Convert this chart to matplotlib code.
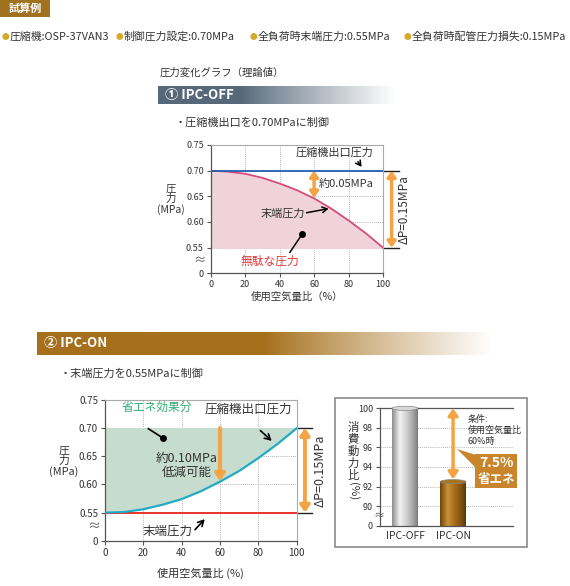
import numpy as np
import matplotlib
matplotlib.use('Agg')
import matplotlib.pyplot as plt
from matplotlib.patches import Rectangle, Ellipse, Polygon
from matplotlib.colors import to_rgb, LinearSegmentedColormap
import matplotlib.transforms as mtrans

plt.rcParams['font.family'] = ['Noto Sans CJK JP', 'DejaVu Sans']

W, H = 570, 586

# ---------------- data ----------------
usage = [0, 10, 20, 30, 40, 50, 60, 70, 80, 90, 100]
off_outlet = [0.70, 0.70, 0.70, 0.70, 0.70, 0.70, 0.70, 0.70, 0.70, 0.70, 0.70]
off_end = [0.700, 0.698, 0.694, 0.686, 0.675, 0.662, 0.646, 0.626, 0.603, 0.578, 0.550]
on_outlet = [0.550, 0.551, 0.556, 0.564, 0.574, 0.588, 0.605, 0.624, 0.647, 0.672, 0.700]
on_end = [0.55, 0.55, 0.55, 0.55, 0.55, 0.55, 0.55, 0.55, 0.55, 0.55, 0.55]
y_ticks = [0.50, 0.55, 0.60, 0.65, 0.70, 0.75]
y_ticklabels = ['0', '0.55', '0.60', '0.65', '0.70', '0.75']
x_ticks = [0, 20, 40, 60, 80, 100]
bar_categories = ['IPC-OFF', 'IPC-ON']
bar_values = [100, 92.5]
bar_yticks = [88, 90, 92, 94, 96, 98, 100]
bar_yticklabels = ['0', '90', '92', '94', '96', '98', '100']
header_items = ['圧縮機:OSP-37VAN3', '制御圧力設定:0.70MPa',
                '全負荷時末端圧力:0.55MPa', '全負荷時配管圧力損失:0.15MPa']

ORANGE = '#f4a445'
DARK = '#333333'


def fx(x):
    return x / W


def fy(y):
    return 1 - y / H


fig = plt.figure(figsize=(W / 100, H / 100), dpi=100)
fig.patch.set_facecolor('white')

# ---------------- header ----------------
fig.patches.append(Rectangle((fx(0), fy(17)), 50 / W, 17 / H, transform=fig.transFigure,
                             facecolor='#a0721f', edgecolor='none'))
fig.text(fx(25), fy(8.5), '試算例', color='white', fontsize=8, fontweight='bold',
         ha='center', va='center')
bullet_x = [2, 116, 250, 404]
for bx, item in zip(bullet_x, header_items):
    fig.text(fx(bx), fy(37), '●', color='#d6aa2c', fontsize=5.5, ha='left', va='center')
    fig.text(fx(bx + 8), fy(37), item, color=DARK, fontsize=7.8, ha='left', va='center')


def banner(x0, x1, y0, y1, color, fade_start, label, tx):
    axb = fig.add_axes([fx(x0), fy(y1), (x1 - x0) / W, (y1 - y0) / H])
    t = np.linspace(0, 1, 400)
    f = np.clip((t - fade_start) / (1 - fade_start), 0, 1) ** 0.9
    c = np.array(to_rgb(color))
    grad = c[None, :] * (1 - f[:, None]) + np.ones(3)[None, :] * f[:, None]
    axb.imshow(grad[None, :, :], aspect='auto', extent=[0, 1, 0, 1])
    axb.set_axis_off()
    fig.text(fx(tx), fy((y0 + y1) / 2), label, color='white', fontsize=9.5,
             fontweight='bold', ha='left', va='center')


# ---------------- chart 1 ----------------
fig.text(fx(160), fy(73), '圧力変化グラフ（理論値）', color=DARK, fontsize=7.5, ha='left', va='center')
banner(158, 395, 86, 104, '#56687a', 0.35, '① IPC-OFF', 165)
fig.text(fx(175), fy(123), '・圧縮機出口を0.70MPaに制御', color=DARK, fontsize=8, ha='left', va='center')


def style_axes(ax, fs):
    ax.set_xlim(0, 100)
    ax.set_ylim(0.50, 0.75)
    ax.set_xticks(x_ticks)
    ax.set_yticks(y_ticks)
    ax.set_yticklabels(y_ticklabels)
    ax.tick_params(labelsize=fs, length=3, width=0.8, color='#555555', labelcolor=DARK, pad=2)
    for s in ['left', 'bottom']:
        ax.spines[s].set_color('#555555')
        ax.spines[s].set_linewidth(0.9)
    for s in ['top', 'right']:
        ax.spines[s].set_color('#aaaaaa')
        ax.spines[s].set_linewidth(0.8)
    ax.grid(True, linestyle=(0, (1, 1.5)), color='#999999', linewidth=0.6)
    ax.set_axisbelow(True)


ax1 = fig.add_axes([fx(210.7), fy(273.3), (383 - 210.7) / W, (273.3 - 145) / H])
style_axes(ax1, 6.5)
ax1.fill_between(usage, off_end, 0.55, color='#f0d3da', zorder=1)
ax1.plot(usage, off_end, color='#d64c7c', lw=1.3, zorder=3)
ax1.plot(usage, off_outlet, color='#2160b0', lw=1.3, zorder=3)
ax1.text(72, 0.735, '圧縮機出口圧力', fontsize=8, color=DARK, ha='center', va='center')
ax1.annotate('', xy=(88.5, 0.703), xytext=(84.5, 0.722),
             arrowprops=dict(arrowstyle='->,head_length=0.35,head_width=0.2', color='black', lw=1.1))
ax1.annotate('', xy=(60, 0.647), xytext=(60, 0.700),
             arrowprops=dict(arrowstyle='<|-|>,head_length=0.35,head_width=0.25', color=ORANGE, lw=2.5,
                             shrinkA=0, shrinkB=0))
ax1.text(62.5, 0.674, '約0.05MPa', fontsize=8, color=DARK, ha='left', va='center')
ax1.text(42, 0.617, '末端圧力', fontsize=8, color=DARK, ha='center', va='center')
ax1.annotate('', xy=(70, 0.627), xytext=(54, 0.617),
             arrowprops=dict(arrowstyle='->,head_length=0.35,head_width=0.2', color='black', lw=1.1))
ax1.text(34.5, 0.524, '無駄な圧力', fontsize=8.5, color='#e53a3a', ha='center', va='center')
ax1.plot([46, 53], [0.541, 0.576], color='black', lw=1.1, zorder=4)
ax1.plot([53], [0.576], 'o', color='black', ms=4, zorder=4)
ax1.annotate('', xy=(105, 0.55), xytext=(105, 0.70), annotation_clip=False,
             arrowprops=dict(arrowstyle='<|-|>,head_length=0.35,head_width=0.25', color=ORANGE, lw=2.5,
                             shrinkA=0, shrinkB=0))
ax1.plot([100, 109], [0.70, 0.70], color='#222222', lw=1.0, clip_on=False)
ax1.plot([100, 109], [0.55, 0.55], color='#222222', lw=1.0, clip_on=False)
ax1.text(112, 0.625, 'ΔP=0.15MPa', fontsize=8.5, color=DARK, rotation=90, ha='center', va='center',
         clip_on=False)
tr1 = mtrans.blended_transform_factory(ax1.transAxes, ax1.transData)
ax1.text(-0.065, 0.525, '≈', transform=tr1, fontsize=9, color='#555555', ha='center', va='center')
fig.text(fx(171), fy(199), '圧\n力\n(MPa)', fontsize=7.5, color=DARK, ha='center', va='center',
         linespacing=1.0)
fig.text(fx(297), fy(297), '使用空気量比（%）', fontsize=7.5, color=DARK, ha='center', va='center')

# ---------------- chart 2 ----------------
banner(37, 492, 332, 355, '#a66f1c', 0.5, '② IPC-ON', 44)
fig.text(fx(60), fy(374), '・末端圧力を0.55MPaに制御', color=DARK, fontsize=8, ha='left', va='center')

ax2 = fig.add_axes([fx(105), fy(540.7), (296.7 - 105) / W, (540.7 - 400) / H])
style_axes(ax2, 7)
ax2.fill_between(usage, on_outlet, 0.70, color='#c6dccf', zorder=1)
ax2.plot(usage, on_end, color='#e8322a', lw=1.4, zorder=3)
ax2.plot(usage, on_outlet, color='#1faac6', lw=1.5, zorder=3)
ax2.text(27, 0.737, '省エネ効果分', fontsize=8.5, color='#35ad77', ha='center', va='center')
ax2.plot([22.6, 30.4], [0.699, 0.682], color='black', lw=1.2, zorder=4)
ax2.plot([30.4], [0.682], 'o', color='black', ms=4, zorder=4)
ax2.text(75, 0.733, '圧縮機出口圧力', fontsize=9, color=DARK, ha='center', va='center')
ax2.annotate('', xy=(88, 0.674), xytext=(80, 0.699),
             arrowprops=dict(arrowstyle='->,head_length=0.4,head_width=0.22', color='black', lw=1.2))
ax2.annotate('', xy=(60, 0.606), xytext=(60, 0.700),
             arrowprops=dict(arrowstyle='-|>,head_length=0.4,head_width=0.28', color=ORANGE, lw=3,
                             shrinkA=0, shrinkB=0))
ax2.text(42.8, 0.634, '約0.10MPa\n低減可能', fontsize=9, color=DARK, ha='center', va='center',
         linespacing=1.15)
ax2.text(32.5, 0.517, '末端圧力', fontsize=9, color=DARK, ha='center', va='center')
ax2.annotate('', xy=(53, 0.542), xytext=(46, 0.516),
             arrowprops=dict(arrowstyle='->,head_length=0.4,head_width=0.22', color='black', lw=1.2))
ax2.annotate('', xy=(104.3, 0.55), xytext=(104.3, 0.70), annotation_clip=False,
             arrowprops=dict(arrowstyle='<|-|>,head_length=0.4,head_width=0.28', color=ORANGE, lw=2.8,
                             shrinkA=0, shrinkB=0))
ax2.plot([100, 108], [0.70, 0.70], color='#222222', lw=1.0, clip_on=False)
ax2.plot([100, 108], [0.55, 0.55], color='#222222', lw=1.0, clip_on=False)
ax2.text(112, 0.625, 'ΔP=0.15MPa', fontsize=9, color=DARK, rotation=90, ha='center', va='center',
         clip_on=False)
tr2 = mtrans.blended_transform_factory(ax2.transAxes, ax2.transData)
ax2.text(-0.055, 0.525, '≈', transform=tr2, fontsize=9.5, color='#555555', ha='center', va='center')
fig.text(fx(64), fy(461), '圧\n力\n(MPa)', fontsize=7.8, color=DARK, ha='center', va='center',
         linespacing=1.0)
fig.text(fx(200), fy(573), '使用空気量比 (%)', fontsize=8, color=DARK, ha='center', va='center')

# ---------------- bar chart ----------------
fig.patches.append(Rectangle((fx(335), fy(547)), (527 - 335) / W, (547 - 398) / H,
                             transform=fig.transFigure, facecolor='none', edgecolor='#8a8a8a', lw=1.2))
ax3 = fig.add_axes([fx(380), fy(525.7), (512.7 - 380) / W, (525.7 - 408.3) / H])
xpos = np.arange(len(bar_categories))
bars = ax3.bar(xpos, bar_values, width=0.54, color='none', edgecolor='none')
ax3.set_xlim(-0.52, 2.24)
ax3.set_ylim(88, 100)
ax3.set_yticks(bar_yticks)
ax3.set_yticklabels(bar_yticklabels)
ax3.set_xticks(xpos)
ax3.set_xticklabels(bar_categories)
ax3.tick_params(axis='y', labelsize=6.5, length=3, width=0.8, color='#555555', labelcolor=DARK, pad=2)
ax3.tick_params(axis='x', labelsize=7.5, length=0, labelcolor=DARK, pad=4)
for s in ['left', 'bottom', 'top']:
    ax3.spines[s].set_color('#555555')
    ax3.spines[s].set_linewidth(0.9)
ax3.spines['right'].set_visible(False)
ax3.yaxis.grid(True, linestyle=(0, (1, 1.5)), color='#999999', linewidth=0.6)
ax3.set_axisbelow(True)

grad_stops = [
    ['#8c8c8c', '#f2f2f2', '#d2d2d2', '#a8a8a8', '#7c7c7c'],
    ['#6e4308', '#c99236', '#a86e1c', '#845410', '#5c3806'],
]
cap_colors = ['#d9d9d9', '#a8741f']
for rect, stops, capc in zip(bars, grad_stops, cap_colors):
    x0 = rect.get_x()
    w = rect.get_width()
    top = rect.get_height()
    cmap = LinearSegmentedColormap.from_list('g', list(zip([0, 0.3, 0.55, 0.8, 1.0], stops)))
    g = np.linspace(0, 1, 200)[None, :]
    ax3.imshow(g, cmap=cmap, aspect='auto', extent=[x0, x0 + w, 88, top], zorder=2)
    ax3.add_patch(Ellipse((x0 + w / 2, top), w, 0.42, facecolor=capc, edgecolor='#888888',
                          lw=0.5, zorder=3, clip_on=False))
ax3.set_xlim(-0.52, 2.24)
ax3.set_ylim(88, 100)

ax3.annotate('', xy=(xpos[1], bar_values[1] + 0.25), xytext=(xpos[1], bar_values[0]),
             annotation_clip=False,
             arrowprops=dict(arrowstyle='<|-|>,head_length=0.4,head_width=0.28', color=ORANGE, lw=2.5,
                             shrinkA=0, shrinkB=0))
tr3 = mtrans.blended_transform_factory(ax3.transAxes, ax3.transData)
ax3.text(-0.005, 88.95, '≈', transform=tr3, fontsize=8, color='#555555', ha='center', va='center')

for i, ch in enumerate('消費動力比'):
    fig.text(fx(353), fy(427 + i * 12), ch, fontsize=8.2, color=DARK, ha='center', va='center')
fig.text(fx(353), fy(491), '(%)', fontsize=8.2, color=DARK, ha='center', va='center', rotation=270)

fig.text(fx(468), fy(415), '条件:\n使用空気量比\n60%時', fontsize=6.5, color=DARK, ha='left', va='top',
         linespacing=1.25)
fig.patches.append(Polygon([(fx(457), fy(449)), (fx(476), fy(455)), (fx(476), fy(468))],
                           closed=True, transform=fig.transFigure, facecolor='#c8852c', edgecolor='none'))
fig.patches.append(Rectangle((fx(475), fy(488)), 42 / W, 34 / H, transform=fig.transFigure,
                             facecolor='#c8852c', edgecolor='none'))
fig.text(fx(496), fy(463), '7.5%', fontsize=10, color='white', fontweight='bold', ha='center', va='center')
fig.text(fx(496), fy(479), '省エネ', fontsize=9, color='white', fontweight='bold', ha='center', va='center')

fig.savefig('out.png', dpi=100, facecolor='white')
